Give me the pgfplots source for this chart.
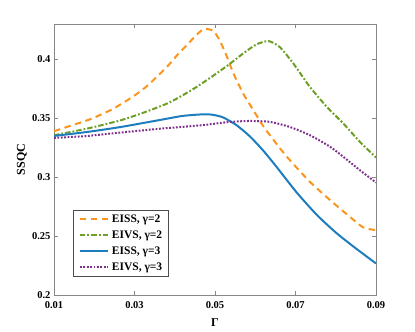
\documentclass[border=0pt]{standalone}
\usepackage{fontspec}
\setmainfont{Liberation Serif}
\usepackage{pgfplots}
\pgfplotsset{compat=1.18}
\definecolor{cOrange}{RGB}{250,150,30}
\definecolor{cGreen}{RGB}{110,160,40}
\definecolor{cBlue}{RGB}{30,125,190}
\definecolor{cPurple}{RGB}{126,47,142}
\definecolor{frame}{RGB}{135,135,135}
\newcommand{\TickFont}{\bfseries\fontsize{10.5}{12}\selectfont}
\newcommand{\LabFont}{\bfseries\fontsize{12}{14}\selectfont}

\begin{document}
\begin{tikzpicture}
\path[use as bounding box] (0,0) rectangle (415pt,332pt);
\begin{axis}[
    at={(54pt,37pt)}, anchor=south west,
    scale only axis,
    width=322pt, height=271pt,
    xmin=0.01, xmax=0.09,
    ymin=0.2, ymax=0.43,
    xtick={0.01,0.03,0.05,0.07,0.09},
    ytick={0.2,0.25,0.3,0.35,0.4},
    scaled x ticks=false, scaled y ticks=false,
    xticklabel style={/pgf/number format/fixed, /pgf/number format/precision=2, yshift=-3pt},
    yticklabel style={/pgf/number format/fixed, /pgf/number format/precision=2},
    /pgf/number format/assume math mode=true,
    tick label style={font=\TickFont, text=black},
    tick align=inside,
    major tick length=4pt,
    axis line style={draw=frame, line width=0.8pt},
    tick style={draw=frame, line width=0.8pt},
    xlabel={\LabFont Γ},
    ylabel={\LabFont SSQC},
    every axis x label/.style={at={(axis description cs:0.5,-0.1)}, anchor=center},
    every axis y label/.style={at={(axis description cs:-0.1,0.5)}, anchor=center, rotate=90},
    legend cell align=left,
    legend image code/.code={\draw[#1] (0pt,0pt) -- (28pt,0pt);},
    legend style={
        at={(axis description cs:0.058,0.0675)}, anchor=south west,
        draw=black!70, line width=0.6pt, fill=white,
        font=\bfseries\fontsize{11.5}{13}\selectfont,
        inner xsep=6pt, inner ysep=3pt,
        row sep=4pt,
        nodes={inner sep=0pt, text height=9pt, text depth=3pt},
        /tikz/every odd column/.append style={column sep=3pt}
    },
]
\addplot[cOrange, line width=2pt, dash pattern=on 6.5pt off 4.5pt, smooth, tension=0.4] coordinates {
(0.010,0.339) (0.014,0.3435) (0.019,0.3492) (0.024,0.3568) (0.027,0.3627)
(0.0297,0.3686) (0.0322,0.3748) (0.0343,0.3811) (0.0365,0.3884) (0.0387,0.396)
(0.0406,0.4036) (0.0427,0.411) (0.0448,0.4186) (0.0469,0.4252) (0.0485,0.4255)
(0.0498,0.4235) (0.0512,0.4158) (0.0527,0.4045) (0.0546,0.388) (0.0570,0.371)
(0.0595,0.357) (0.0620,0.3432) (0.0645,0.3318) (0.0661,0.3247) (0.0686,0.3144)
(0.0736,0.296) (0.0786,0.2805) (0.0835,0.2664) (0.0868,0.2574) (0.090,0.255)
};
\addlegendentry{EISS, γ=2}
\addplot[cGreen, line width=2pt, dash pattern=on 5.5pt off 2pt on 1.8pt off 2pt, smooth, tension=0.4] coordinates {
(0.010,0.3356) (0.0183,0.3413) (0.0266,0.3483) (0.033,0.3557)
(0.0388,0.3636) (0.0446,0.3748) (0.0496,0.3862) (0.0536,0.396) (0.057,0.405)
(0.0603,0.4127) (0.0633,0.4155) (0.0661,0.4104) (0.0695,0.3963) (0.0736,0.3765)
(0.0778,0.3596) (0.0819,0.3455) (0.086,0.330) (0.090,0.3167)
};
\addlegendentry{EIVS, γ=2}
\addplot[cBlue, line width=2pt, smooth, tension=0.4] coordinates {
(0.010,0.335) (0.0183,0.3384) (0.0266,0.3426) (0.0369,0.3489) (0.042,0.352)
(0.0473,0.3534) (0.0497,0.3528) (0.0521,0.3506) (0.0554,0.344) (0.0587,0.3345)
(0.0620,0.3225) (0.0653,0.3087) (0.0703,0.2870) (0.0753,0.2680) (0.0802,0.2525)
(0.0852,0.2390) (0.090,0.2268)
};
\addlegendentry{EISS, γ=3}
\addplot[cPurple, line width=2pt, dash pattern=on 1.8pt off 1.6pt, smooth, tension=0.4] coordinates {
(0.010,0.3333) (0.0183,0.335) (0.0266,0.3379) (0.0369,0.3413) (0.0448,0.3435)
(0.0488,0.3449) (0.0537,0.3469) (0.0587,0.3477) (0.0637,0.3469) (0.0686,0.3426)
(0.0736,0.3356) (0.0786,0.3258) (0.0819,0.3172) (0.086,0.3059) (0.090,0.2955)
};
\addlegendentry{EIVS, γ=3}
\end{axis}
\end{tikzpicture}
\end{document}
